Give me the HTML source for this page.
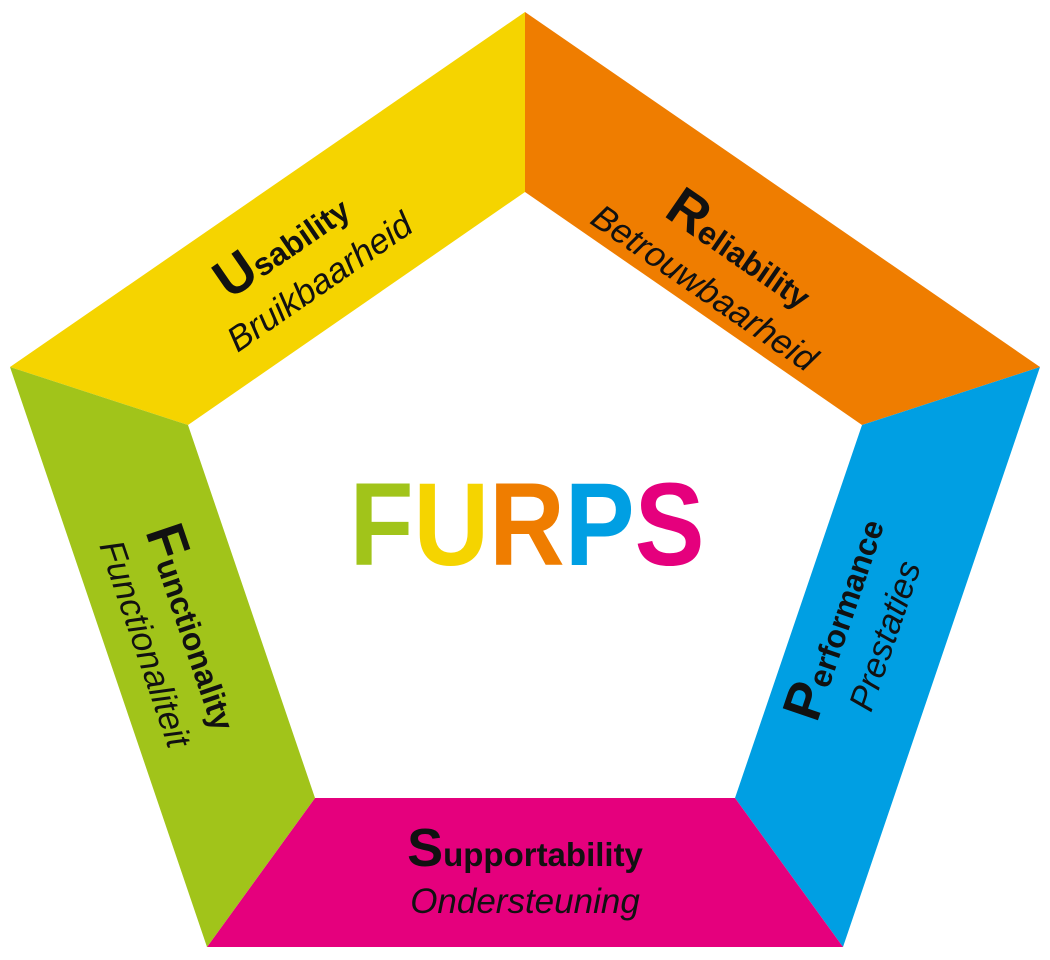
<!DOCTYPE html>
<html><head><meta charset="utf-8"><style>html,body{margin:0;padding:0;background:#fff}svg{display:block}</style></head>
<body>
<svg width="1050" height="960" viewBox="0 0 1050 960" xmlns="http://www.w3.org/2000/svg" font-family="Liberation Sans, sans-serif">
<polygon points="525,12 10,367 188,425 525,192" fill="#F5D400"/>
<polygon points="525,12 1040,367 862,425 525,192" fill="#EF7D00"/>
<polygon points="1040,367 843,947 735,798 862,425" fill="#009FE3"/>
<polygon points="843,947 207,947 315,798 735,798" fill="#E5007D"/>
<polygon points="207,947 10,367 188,425 315,798" fill="#A1C41A"/>

<text x="527" y="565" font-size="118" font-weight="bold" text-anchor="middle" textLength="355" lengthAdjust="spacingAndGlyphs"><tspan fill="#A1C41A">F</tspan><tspan fill="#F5D400">U</tspan><tspan fill="#EF7D00">R</tspan><tspan fill="#009FE3">P</tspan><tspan fill="#E5007D">S</tspan></text>

<g transform="translate(306,262) rotate(-34.6)" fill="#111">
<text x="-10" y="-12" text-anchor="middle" font-weight="bold" font-size="32"><tspan font-size="54">U</tspan>sability</text>
<text x="0" y="36" text-anchor="middle" font-style="italic" font-size="35">Bruikbaarheid</text>
</g>
<g transform="translate(718,268) rotate(34.6)" fill="#111">
<text x="8" y="-12" text-anchor="middle" font-weight="bold" font-size="32"><tspan font-size="54">R</tspan>eliability</text>
<text x="0" y="36" text-anchor="middle" font-style="italic" font-size="35">Betrouwbaarheid</text>
</g>
<g transform="translate(862,628) rotate(-71.2)" fill="#111">
<text x="0" y="-12" text-anchor="middle" font-weight="bold" font-size="32"><tspan font-size="54">P</tspan>erformance</text>
<text x="0" y="36" text-anchor="middle" font-style="italic" font-size="35">Prestaties</text>
</g>
<g transform="translate(168,636) rotate(71.2)" fill="#111">
<text x="0" y="-12" text-anchor="middle" font-weight="bold" font-size="32"><tspan font-size="54">F</tspan>unctionality</text>
<text x="0" y="36" text-anchor="middle" font-style="italic" font-size="35">Functionaliteit</text>
</g>
<g fill="#111">
<text x="525" y="866" text-anchor="middle" font-weight="bold" font-size="33"><tspan font-size="54">S</tspan>upportability</text>
<text x="525" y="913" text-anchor="middle" font-style="italic" font-size="35">Ondersteuning</text>
</g>
</svg>
</body></html>
